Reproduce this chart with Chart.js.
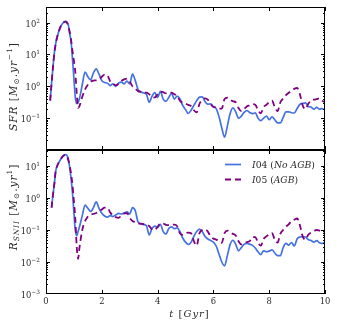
<!DOCTYPE html>
<html><head><meta charset="utf-8">
<script src="https://cdn.jsdelivr.net/npm/chart.js@4.4.1/dist/chart.umd.min.js"></script>
<style>
html,body{margin:0;padding:0;background:#fff;}
#wrap{position:relative;width:337px;height:327px;background:#fff;}
canvas{position:absolute;left:0;top:0;}
</style></head><body>
<div id="wrap"><canvas id="c1" width="337" height="327"></canvas><canvas id="c2" width="337" height="327"></canvas></div>
<script>
// time axis (Gyr)
const times = [0.15,0.2,0.25,0.3,0.35,0.4,0.5,0.6,0.7,0.75,0.8,0.85,0.9,0.95,1.0,1.05,1.1,1.15,1.2,
 1.3,1.4,1.5,1.6,1.7,1.8,1.9,2.0,
 2.1,2.2,2.3,2.4,2.5,2.6,2.7,2.8,2.9,3.0,
 3.1,3.2,3.3,3.4,3.5,3.6,3.7,3.8,3.9,4.0,
 4.1,4.2,4.3,4.4,4.5,4.6,4.7,4.8,4.9,5.0,
 5.1,5.2,5.3,5.4,5.5,5.6,5.7,5.8,5.9,6.0,
 6.1,6.2,6.3,6.4,6.5,6.6,6.7,6.8,6.9,7.0,
 7.1,7.2,7.3,7.4,7.5,7.6,7.7,7.8,7.9,8.0,
 8.1,8.2,8.3,8.4,8.5,8.6,8.7,8.8,8.9,9.0,
 9.1,9.2,9.3,9.4,9.5,9.6,9.7,9.8,9.9,10.0];

// SFR [Msun/yr]
const sfrI04 = [0.355,1.26,3.98,11.2,22.4,35.5,67.6,95.5,110,105,85.1,44.7,25.1,7.08,1.78,0.447,0.288,0.316,0.417,
 1.12,2.82,2.0,1.62,2.63,3.55,2.4,1.51,
 1.32,1.26,1.05,1.2,1.0,1.26,1.35,1.2,1.45,1.2,
 2.4,1.51,0.794,0.676,0.617,0.562,0.316,0.49,0.631,0.447,
 0.692,0.398,0.339,0.447,0.603,0.398,0.49,0.398,0.251,0.186,
 0.141,0.178,0.251,0.355,0.457,0.468,0.331,0.275,0.282,0.229,
 0.2,0.112,0.0501,0.0251,0.0562,0.141,0.209,0.158,0.1,0.115,
 0.151,0.174,0.151,0.138,0.148,0.1,0.0832,0.1,0.117,0.0891,
 0.11,0.0891,0.0708,0.0708,0.105,0.158,0.158,0.148,0.145,0.2,
 0.269,0.288,0.302,0.234,0.224,0.191,0.219,0.191,0.2,0.186];
const sfrI05 = [0.355,1.26,3.98,11.2,22.4,35.5,67.6,95.5,107,100,79.4,50.1,28.2,12.6,6.31,2.82,0.631,0.209,0.24,
 0.468,0.794,1.12,1.41,1.51,1.55,1.66,2.0,
 2.34,2.24,1.41,1.2,1.07,1.2,1.48,1.66,1.74,1.41,
 1.0,0.832,0.708,0.661,0.631,0.631,0.562,0.468,0.447,0.562,
 0.676,0.661,0.603,0.631,0.631,0.562,0.501,0.355,0.302,0.282,
 0.263,0.24,0.178,0.151,0.282,0.38,0.417,0.38,0.282,0.224,
 0.219,0.2,0.2,0.398,0.437,0.38,0.339,0.316,0.209,0.166,
 0.191,0.234,0.251,0.275,0.263,0.178,0.141,0.224,0.263,0.316,
 0.355,0.224,0.166,0.316,0.417,0.525,0.631,0.708,0.832,0.891,
 0.562,0.251,0.191,0.282,0.355,0.38,0.398,0.417,0.355,0.316];

// R_SNII
const snI04 = [null,0.501,1.26,2.82,7.08,10,14.8,20,22.9,21.4,16.6,8.91,3.98,1.41,0.355,0.1,0.0661,0.0891,0.126,
 0.282,0.603,0.479,0.38,0.501,0.759,0.479,0.331,
 0.275,0.251,0.282,0.263,0.295,0.331,0.316,0.339,0.372,0.316,
 0.501,0.398,0.178,0.155,0.148,0.135,0.0708,0.112,0.132,0.12,
 0.151,0.0891,0.0741,0.112,0.126,0.11,0.117,0.0891,0.0562,0.0417,
 0.0355,0.0417,0.0631,0.0891,0.107,0.0891,0.0631,0.0525,0.0468,0.0417,
 0.0316,0.0178,0.01,0.00759,0.0158,0.0355,0.0479,0.0355,0.0224,0.0282,
 0.0355,0.038,0.0363,0.0331,0.0275,0.0209,0.017,0.0224,0.0209,0.0219,
 0.024,0.0191,0.0158,0.0158,0.0282,0.038,0.0339,0.0407,0.0316,0.0525,
 0.0603,0.0617,0.0603,0.0501,0.0468,0.0417,0.0468,0.0398,0.038,0.0417];
const snI05 = [null,0.501,1.26,2.82,7.08,10,14.8,20,22.4,20,15.1,10,5.62,2.51,0.794,0.224,0.0316,0.0126,0.0282,
 0.1,0.191,0.263,0.302,0.316,0.339,0.38,0.437,
 0.501,0.501,0.355,0.282,0.251,0.24,0.282,0.331,0.339,0.24,
 0.191,0.174,0.158,0.158,0.151,0.151,0.132,0.105,0.1,0.126,
 0.158,0.158,0.145,0.141,0.145,0.148,0.132,0.0794,0.0708,0.0794,
 0.0832,0.0794,0.0447,0.0324,0.0794,0.1,0.105,0.0891,0.0631,0.0537,
 0.0501,0.0447,0.0398,0.0794,0.0955,0.0832,0.0759,0.0676,0.0447,0.0355,
 0.038,0.0417,0.0447,0.0603,0.0603,0.0398,0.0324,0.0525,0.0631,0.0741,
 0.0794,0.0501,0.0407,0.0759,0.1,0.126,0.151,0.191,0.209,0.229,
 0.141,0.0631,0.0501,0.0708,0.0832,0.0933,0.1,0.0955,0.0891,0.0832];

const xTicks = [0,2,4,6,8,10];
const xTickLabels = ['0','2','4','6','8','10'];
const sfrTicks = [0.1,1,10,100];
const sfrTickExp = ['\u22121','0','1','2'];
const snTicks = [0.001,0.01,0.1,1,10];
const snTickExp = ['\u22123','\u22122','\u22121','0','1'];

const BLUE = '#4572e2';
const PURPLE = '#800080';
const TEXT = '#2a2a2a';
const FONT = '"DejaVu Serif"';

// rich text: parts = [text, style]; style: i=italic, b=subscript, p=superscript
function layoutRich(ctx, parts, size, sp){
  let w = 0;
  const items = [];
  let n = 0;
  parts.forEach(([t,s])=>{
    const small = /[bp]/.test(s);
    const fs = small ? size*0.7 : size;
    const f = (s.includes('i') ? 'italic ' : '') + fs.toFixed(2) + 'px ' + FONT;
    const dy = s.includes('b') ? size*0.25 : (s.includes('p') ? -size*0.42 : 0);
    ctx.font = f;
    for (const ch of t){
      if (n > 0) w += sp;
      const mw = ctx.measureText(ch).width;
      items.push({t: ch, f, dy, x: w});
      w += mw; n++;
    }
  });
  return {items, w, n};
}
function drawRich(ctx, parts, x, y, size, align, target){
  let L = layoutRich(ctx, parts, size, 0);
  if (target){
    if (target < L.w){
      L = layoutRich(ctx, parts, size * target / L.w, 0);
    } else {
      const sp = Math.min(1.0, (target - L.w) / Math.max(1, L.n - 1));
      L = layoutRich(ctx, parts, size, sp);
    }
  }
  const x0 = align === 'center' ? x - L.w/2 : (align === 'right' ? x - L.w : x);
  ctx.textAlign = 'left';
  ctx.textBaseline = 'alphabetic';
  L.items.forEach(it=>{ ctx.font = it.f; ctx.fillText(it.t, x0 + it.x, y + it.dy); });
}

const deco = {
  id: 'panelDeco',
  afterDraw(chart, args, o){
    const ctx = chart.ctx;
    const {left, right, top, bottom} = chart.chartArea;
    const xs = chart.scales.x, ys = chart.scales.y;
    ctx.save();
    ctx.strokeStyle = '#000';
    ctx.fillStyle = TEXT;
    ctx.lineWidth = 1;
    ctx.strokeRect(left + 0.5, top + 0.5, right - left - 1, bottom - top - 1);
    const line = (x1,y1,x2,y2)=>{ ctx.beginPath(); ctx.moveTo(x1,y1); ctx.lineTo(x2,y2); ctx.stroke(); };
    // x ticks inward
    xTicks.forEach(v=>{
      const px = Math.round(xs.getPixelForValue(v)) + 0.5;
      line(px, top, px, top + 4);
      line(px, bottom, px, bottom - 4);
    });
    // y minor ticks
    const lo = Math.floor(Math.log10(ys.min)), hi = Math.ceil(Math.log10(ys.max));
    for (let e = lo; e <= hi; e++){
      for (let m = 2; m <= 9; m++){
        const v = m * Math.pow(10, e);
        if (v <= ys.min || v >= ys.max) continue;
        const py = Math.round(ys.getPixelForValue(v)) + 0.5;
        line(left, py, left + 2, py);
        line(right, py, right - 2, py);
      }
    }
    // y major ticks + labels
    o.ticks.forEach((v,i)=>{
      const py = Math.round(ys.getPixelForValue(v)) + 0.5;
      if (v > ys.min && v < ys.max){
        line(left, py, left + 4, py);
        line(right, py, right - 4, py);
      }
      drawRich(ctx, [['10',''],[o.exps[i],'p']], left - 6, py + 3.2, 8.4, 'right');
    });
    // x tick labels + title
    if (o.xLabels){
      xTicks.forEach((v,i)=>{
        const px = xs.getPixelForValue(v);
        drawRich(ctx, [[xTickLabels[i],'']], px, 304, 8.4, 'center');
      });
      drawRich(ctx, [['t','i'],[' [',''],['Gyr','i'],[']','']], 189, 316.5, 10, 'center', 40);
    }
    // y title (rotated)
    ctx.save();
    ctx.translate(16.5, o.titleY);
    ctx.rotate(-Math.PI/2);
    drawRich(ctx, o.title, 0, 0, 10.5, 'center', o.titleLen);
    ctx.restore();
    // legend
    if (o.legend){
      ctx.lineWidth = 1.7;
      ctx.strokeStyle = BLUE;
      line(225, 164.5, 241, 164.5);
      ctx.strokeStyle = PURPLE;
      ctx.lineWidth = 1.8;
      ctx.setLineDash([6,4]);
      line(225, 179.5, 243, 179.5);
      ctx.setLineDash([]);
      drawRich(ctx, [['I','i'],['04',''],[' (',''],['No','i'],[' ',''],['AGB','i'],[')','']], 252, 167.8, 9.5, 'left', 63);
      drawRich(ctx, [['I','i'],['05',''],[' (',''],['AGB','i'],[')','']], 252, 182.8, 9.5, 'left', 46);
    }
    ctx.restore();
  }
};

function pts(arr){ return times.map((t,i)=>({x:t, y:arr[i]})); }

function makeChart(id, s04, s05, ymin, ymax, padding, deco_opts){
  return new Chart(document.getElementById(id), {
    type: 'line',
    data: {
      datasets: [
        {label: 'I04 (No AGB)', data: pts(s04), borderColor: BLUE, borderWidth: 1.7, pointRadius: 0, cubicInterpolationMode: 'monotone', order: 1},
        {label: 'I05 (AGB)', data: pts(s05), borderColor: PURPLE, borderWidth: 1.8, borderDash: [6,4], pointRadius: 0, cubicInterpolationMode: 'monotone', order: 0}
      ]
    },
    options: {
      responsive: false, animation: false, devicePixelRatio: 1,
      layout: {padding: padding},
      scales: {
        x: {type: 'linear', min: 0, max: 10, display: false},
        y: {type: 'logarithmic', min: ymin, max: ymax, display: false}
      },
      plugins: {legend: {display: false}, tooltip: {enabled: false}, panelDeco: deco_opts}
    },
    plugins: [deco]
  });
}

makeChart('c1', sfrI04, sfrI05, 0.01, 310, {left: 46, right: 12, top: 7, bottom: 177}, {
  ticks: sfrTicks, exps: sfrTickExp, xLabels: false, legend: false,
  title: [['SFR','i'],[' [',''],['M','i'],['\u2299','b'],['.',''],['yr','i'],['\u22121','p'],[']','']],
  titleY: 87, titleLen: 88
});
makeChart('c2', snI04, snI05, 0.001, 31.6, {left: 46, right: 12, top: 150, bottom: 33}, {
  ticks: snTicks, exps: snTickExp, xLabels: true, legend: true,
  title: [['R','i'],['SNII','ib'],[' [',''],['M','i'],['\u2299','b'],['.',''],['yr','i'],['1','p'],[']','']],
  titleY: 207.5, titleLen: 104
});
</script>
</body></html>
